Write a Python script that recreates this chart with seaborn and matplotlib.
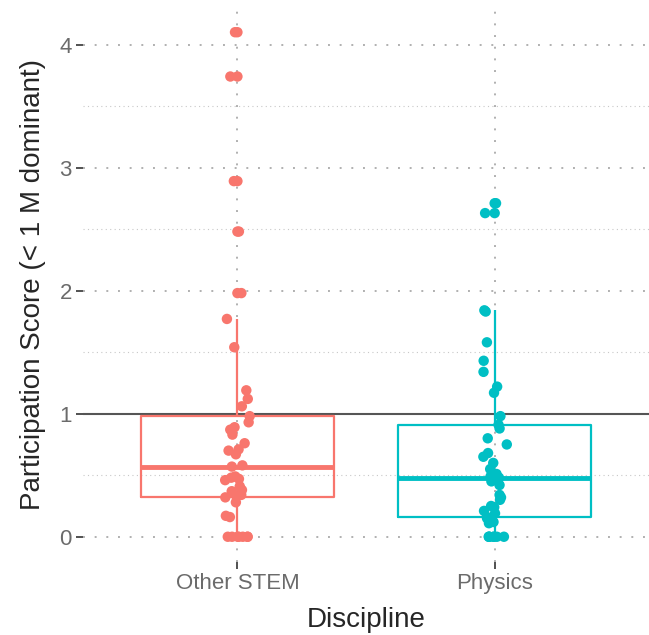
import numpy as np
import pandas as pd
import matplotlib
matplotlib.use("Agg")
import matplotlib.pyplot as plt
import seaborn as sns

# ===============================
# Data
# ===============================
groups = ["Other STEM", "Physics"]
colors = ["#F8766D", "#00BFC4"]

other_stem = [0, 0, 0, 0, 0, 0, 0, 0.16, 0.17, 0.28, 0.32, 0.33, 0.34, 0.37, 0.38,
              0.41, 0.46, 0.47, 0.48, 0.49, 0.57, 0.58, 0.67, 0.70, 0.71, 0.76,
              0.83, 0.87, 0.89, 0.93, 0.98, 1.06, 1.12, 1.19, 1.54, 1.77, 1.98,
              2.48, 2.89, 3.74, 4.10]
physics = [0, 0, 0, 0, 0, 0, 0, 0.11, 0.12, 0.15, 0.16, 0.19, 0.21, 0.24, 0.25,
           0.30, 0.32, 0.34, 0.42, 0.45, 0.48, 0.49, 0.51, 0.55, 0.60, 0.65,
           0.68, 0.75, 0.80, 0.88, 0.91, 0.98, 1.17, 1.22, 1.34, 1.43, 1.58,
           1.83, 1.84, 2.63, 2.71]

y_ticks = [0, 1, 2, 3, 4]
ref_line = 1

df = pd.DataFrame({
    "Discipline": ["Other STEM"] * len(other_stem) + ["Physics"] * len(physics),
    "score": other_stem + physics,
})

# outliers (drawn at the centre like ggplot's boxplot does)
def flag_outliers(s):
    q1, q3 = s.quantile(0.25), s.quantile(0.75)
    iqr = q3 - q1
    return (s < q1 - 1.5 * iqr) | (s > q3 + 1.5 * iqr)

df["outlier"] = df.groupby("Discipline")["score"].transform(flag_outliers)
outliers = df[df["outlier"]]

# ===============================
# Plot
# ===============================
sns.set_style("white")
plt.rcParams["font.family"] = ["Liberation Sans", "DejaVu Sans"]

fig = plt.figure(figsize=(6.49, 6.35), dpi=100)
ax = fig.add_axes([0.128, 0.115, 0.872, 0.874])

# grid
for v in np.arange(0.5, 4.5, 1.0):
    ax.axhline(v, color="#c8c8c8", lw=0.8, ls=(0, (1, 3)), zorder=0)
for v in y_ticks:
    ax.axhline(v, color="#b0b0b0", lw=1.4, ls=(0, (1, 5)), zorder=0)
for i in range(len(groups)):
    ax.axvline(i, color="#b0b0b0", lw=1.4, ls=(0, (1, 5)), zorder=0)

ax.axhline(ref_line, color="#555555", lw=1.5, zorder=1)

sns.boxplot(data=df, x="Discipline", y="score", hue="Discipline", order=groups,
            hue_order=groups, palette=colors, fill=False, width=0.75,
            linewidth=1.6, showfliers=False, legend=False,
            medianprops=dict(linewidth=3.5), capprops=dict(linewidth=0),
            ax=ax, zorder=2)

sns.stripplot(data=outliers, x="Discipline", y="score", hue="Discipline",
              order=groups, hue_order=groups, palette=colors, jitter=False,
              size=7.5, linewidth=0, legend=False, ax=ax, zorder=3)

np.random.seed(3)
sns.stripplot(data=df, x="Discipline", y="score", hue="Discipline",
              order=groups, hue_order=groups, palette=colors, jitter=0.05,
              size=7.5, linewidth=0, legend=False, ax=ax, zorder=4)

ax.set_xlim(-0.6, 1.6)
ax.set_ylim(-0.205, 4.305)
ax.set_yticks(y_ticks)
ax.set_yticklabels([str(t) for t in y_ticks])

for s in ax.spines.values():
    s.set_visible(False)

ax.tick_params(axis="both", which="both", length=5, width=1.2, color="#333333",
               labelsize=16, labelcolor="#6b6b6b", pad=3, direction="out",
               left=True, bottom=True)
ax.set_xlabel("Discipline", fontsize=20, labelpad=9)
ax.set_ylabel("Participation Score (< 1 M dominant)", fontsize=20, labelpad=10)

fig.savefig("out.png", dpi=100)
